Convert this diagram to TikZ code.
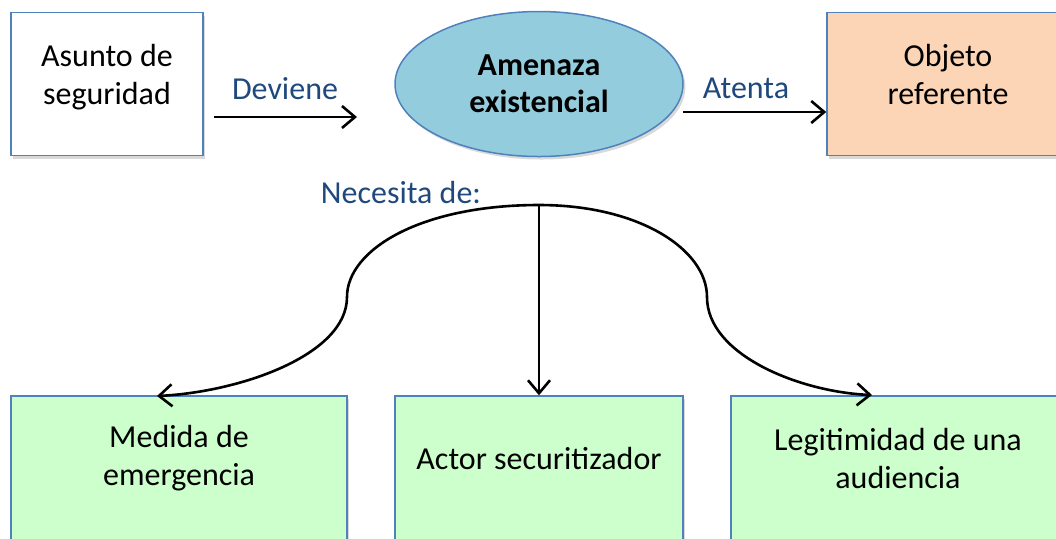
\documentclass[tikz,border=0pt]{standalone}
\usepackage{fontspec}
\setmainfont{Carlito}
\usetikzlibrary{arrows.meta, shapes.geometric, shadows}
\definecolor{boxline}{HTML}{4F81BD}
\definecolor{labelblue}{HTML}{1F497D}
\definecolor{threatfill}{HTML}{93CDDD}
\definecolor{objectfill}{HTML}{FBD5B5}
\definecolor{needfill}{HTML}{CCFFCC}
\tikzset{
  boxshadow/.style={drop shadow={shadow xshift=1.2pt, shadow yshift=-1.5pt, opacity=0.3}},
  card/.style={draw=boxline, line width=0.75pt, rectangle, inner sep=0pt, boxshadow},
  words/.style={align=center, font=\fontsize{16}{19}\selectfont},
  tag/.style={text=labelblue, font=\fontsize{16}{19}\selectfont},
  link/.style={line width=1.3pt, -{Straight Barb[length=6.5pt, width=11pt, line width=1.3pt]}},
}

\begin{document}
\begin{tikzpicture}[x=0.5pt, y=-0.5pt]
        \useasboundingbox (0, 0) rectangle (1056, 538);
        % top row
        \node[card, fill=white, minimum width=96pt, minimum height=71.5pt] (Asunto box) at (107, 84) {};
        \node[words] (Asunto) at (107, 77) {Asunto de\\seguridad};
        \node[ellipse, draw=boxline, line width=0.75pt, fill=threatfill, boxshadow, minimum width=144pt, minimum height=72.5pt, words, font=\fontsize{16}{18.5}\selectfont\bfseries] (Amenaza) at (539, 84) {Amenaza\\existencial};
        \node[card, fill=objectfill, minimum width=121pt, minimum height=71.5pt] (Objeto box) at (948, 84) {};
        \node[words] (Objeto) at (948, 74) {Objeto\\referente};
        % bottom row
        \node[card, fill=needfill, minimum width=168pt, minimum height=92pt] (Medida box) at (179, 488) {};
        \node[card, fill=needfill, minimum width=144pt, minimum height=92pt] (Actor box) at (539, 488) {};
        \node[card, fill=needfill, minimum width=168pt, minimum height=92pt] (Legitimidad box) at (899, 488) {};
        \node[words] (Medida) at (179, 458) {Medida de\\emergencia};
        \node[words] (Actor) at (539, 458) {Actor securitizador};
        \node[words] (Legitimidad) at (898, 458) {Legitimidad de una\\audiencia};
        % labels
        \node[tag] (Deviene) at (285, 89) {Deviene};
        \node[tag] (Atenta) at (746, 88) {Atenta};
        \node[tag] (Necesita) at (401, 193) {Necesita de:};
        % connectors
        \coordinate (Deviene start) at (214, 117);
        \coordinate (Deviene end) at (357, 117);
        \coordinate (Atenta start) at (683, 112);
        \coordinate (brace top) at (539, 205);
        \coordinate (Medida tip) at (157, 396);
        \coordinate (Legitimidad tip) at (872, 395);
        \draw[link] (Deviene start) -- (Deviene end);
        \draw[link] (Atenta start) -- (Atenta start -| Objeto box.west);
        \draw[link] (brace top) -- (brace top |- Actor box.north);
        \draw[link] (brace top) .. controls (420, 205) and (347, 250) .. (347, 297)
            .. controls (347, 355) and (240, 392) .. (Medida tip);
        \draw[link] (brace top) .. controls (640, 205) and (707, 250) .. (707, 297)
            .. controls (707, 355) and (800, 392) .. (Legitimidad tip);
    \end{tikzpicture}
\end{document}
